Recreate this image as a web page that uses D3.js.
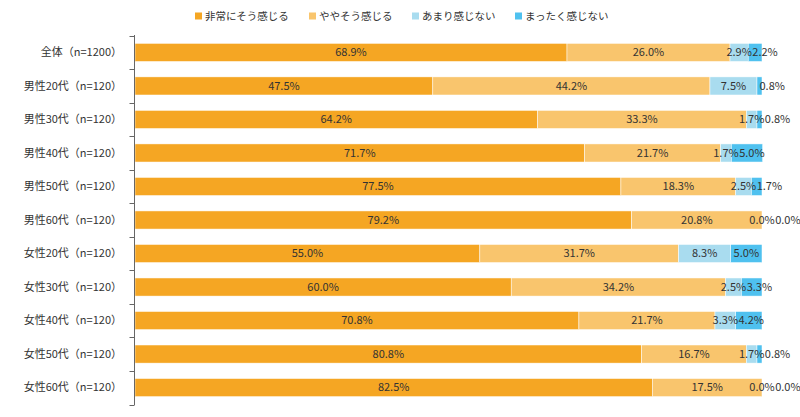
<!DOCTYPE html>
<html>
<head>
<meta charset="utf-8">
<script src="https://cdn.jsdelivr.net/npm/d3@7"></script>
<style>
  body { margin: 0; background: #fff; }
  text { font-family: "Noto Sans CJK JP", "Noto Sans", sans-serif; fill: #333; }
</style>
</head>
<body>
<svg id="chart" width="800" height="417"></svg>
<script>
// categories (top to bottom)
var categories = ["全体（n=1200）", "男性20代（n=120）", "男性30代（n=120）", "男性40代（n=120）",
  "男性50代（n=120）", "男性60代（n=120）", "女性20代（n=120）", "女性30代（n=120）",
  "女性40代（n=120）", "女性50代（n=120）", "女性60代（n=120）"];

var seriesNames = ["非常にそう感じる", "ややそう感じる", "あまり感じない", "まったく感じない"];
var seriesColors = ["#F5A623", "#F9C56D", "#A9DCEF", "#4FC1EF"];

var strongly = [68.9, 47.5, 64.2, 71.7, 77.5, 79.2, 55.0, 60.0, 70.8, 80.8, 82.5];
var somewhat = [26.0, 44.2, 33.3, 21.7, 18.3, 20.8, 31.7, 34.2, 21.7, 16.7, 17.5];
var notMuch  = [2.9, 7.5, 1.7, 1.7, 2.5, 0.0, 8.3, 2.5, 3.3, 1.7, 0.0];
var notAtAll = [2.2, 0.8, 0.8, 5.0, 1.7, 0.0, 5.0, 3.3, 4.2, 0.8, 0.0];

var seriesValues = [strongly, somewhat, notMuch, notAtAll];

var svg = d3.select("#chart");

var margin = {left: 134.5, right: 38, top: 35, bottom: 12};
var width = 800, height = 417;

var x = d3.scaleLinear()
  .domain([0, 100])
  .range([margin.left + 0.5, width - margin.right]);

var y = d3.scaleBand()
  .domain(categories)
  .range([margin.top, height - margin.bottom])
  .paddingInner(0.46)
  .paddingOuter(0.25);

// build stacked data
var rows = categories.map(function(c, i) {
  var r = {name: c};
  seriesNames.forEach(function(s, k) { r[s] = seriesValues[k][i]; });
  return r;
});
var stacked = d3.stack().keys(seriesNames)(rows);

// bars
var g = svg.append("g");
g.selectAll("g.series")
  .data(stacked)
  .enter()
  .append("g")
    .attr("fill", function(d, k) { return seriesColors[k]; })
  .selectAll("rect")
    .data(function(d) { return d; })
    .enter()
    .append("rect")
      .attr("x", function(d) { return x(d[0]); })
      .attr("y", function(d) { return y(d.data.name); })
      .attr("width", function(d) { return Math.max(0, x(d[1]) - x(d[0])); })
      .attr("height", y.bandwidth())
      .attr("stroke", "#fff")
      .attr("stroke-width", 0.5);

// value labels: centred; a very thin last segment starts its label at its centre;
// each label is pushed right past the previous one
var lastK = seriesNames.length - 1;
var labelG = svg.append("g");
categories.forEach(function(c, i) {
  var lastRight = -Infinity;
  stacked.forEach(function(s, k) {
    var d = s[i];
    var t = labelG.append("text")
      .attr("y", y(c) + y.bandwidth() / 2)
      .attr("dy", "0.35em")
      .attr("font-size", 11)
      .text(seriesValues[k][i].toFixed(1) + "%");
    var w = t.node().getComputedTextLength();
    var segW = x(d[1]) - x(d[0]);
    var mid = (x(d[0]) + x(d[1])) / 2;
    var left = mid - w / 2;
    if (k === lastK && segW > 0 && segW < w / 2) left = mid;
    if (left < lastRight + 0.5) left = lastRight + 0.5;
    t.attr("x", left);
    lastRight = left + w;
  });
});

// y axis with ticks between bands
var axisX = margin.left;
var ticks = categories.map(function(c) { return y(c) - y.step() * y.paddingInner() / 2; });
ticks.push(height - margin.bottom);
var ax = svg.append("g").attr("stroke", "#666").attr("stroke-width", 1);
ax.append("line")
  .attr("x1", axisX).attr("x2", axisX)
  .attr("y1", margin.top).attr("y2", height - margin.bottom);
ax.selectAll("line.tick")
  .data(ticks)
  .enter()
  .append("line")
    .attr("x1", axisX - 5).attr("x2", axisX)
    .attr("y1", function(d) { return Math.round(d) + 0.5; })
    .attr("y2", function(d) { return Math.round(d) + 0.5; });

svg.append("g").selectAll("text")
  .data(categories)
  .enter()
  .append("text")
    .attr("x", 122)
    .attr("y", function(d) { return y(d) + y.bandwidth() / 2; })
    .attr("dy", "0.35em")
    .attr("text-anchor", "end")
    .attr("font-size", 11)
    .text(function(d) { return d; });

// legend
var legendX = [195, 309, 412, 515];
var legend = svg.append("g").selectAll("g")
  .data(seriesNames)
  .enter()
  .append("g")
    .attr("transform", function(d, k) { return "translate(" + legendX[k] + ",16)"; });
legend.append("rect")
  .attr("x", 0).attr("y", -3.5)
  .attr("width", 7).attr("height", 7)
  .attr("fill", function(d, k) { return seriesColors[k]; });
legend.append("text")
  .attr("x", 10)
  .attr("dy", "0.35em")
  .attr("font-size", 10.5)
  .text(function(d) { return d; });
</script>
</body>
</html>
